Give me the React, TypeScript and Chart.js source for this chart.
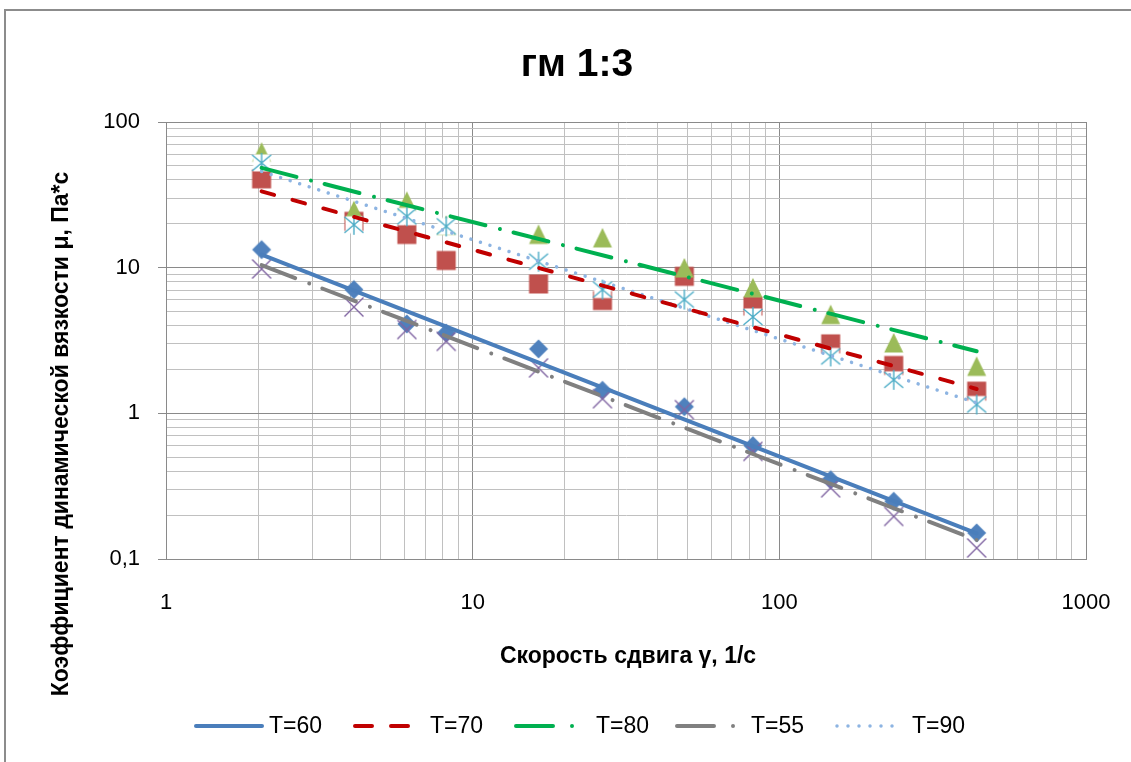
import { useEffect, useRef } from 'react';
import { Chart, registerables } from 'chart.js';

Chart.register(...registerables);

// ---------- data ----------
const chartTitle = 'гм 1:3';
const xAxisTitle = 'Скорость сдвига γ, 1/с';
const yAxisTitle = 'Коэффициент динамической вязкости μ, Па*с';

const seriesLabels = ['T=60', 'T=70', 'T=80', 'T=55', 'T=90'];

const shearRate = [2.05, 4.1, 6.1, 8.2, 16.4, 26.5, 49, 82, 147, 236, 440];
const viscT60 = [13.3, 7.07, 4.11, 3.56, 2.77, 1.44, 1.11, 0.6, 0.35, 0.249, 0.151];
const viscT70 = [40.7, 20.8, 16.9, 11.2, 7.73, 5.95, 8.72, 5.45, 3.0, 2.13, 1.42];
const viscT80 = [62, 24.6, 28.5, 19.5, 16.9, 16.0, 9.95, 7.26, 4.76, 3.04, 2.1];
const viscT55 = [9.8, 5.37, 3.76, 3.12, 2.05, 1.26, 1.06, 0.548, 0.308, 0.196, 0.119];
const viscT90 = [52.4, 19.7, 22.5, 19.2, 11.0, 7.07, 6.04, 4.59, 2.46, 1.7, 1.15];

// power trend lines (straight in log-log), end values
const trendRange = [2.05, 440];
const trendT60 = [12.3, 0.15];
const trendT70 = [33.4, 1.47];
const trendT80 = [48.4, 2.67];
const trendT55 = [10.4, 0.135];
const trendT90 = [45.8, 1.18];

const xTickValues = [1, 10, 100, 1000];
const xTickLabels = ['1', '10', '100', '1000'];
const yTickValues = [0.1, 1, 10, 100];
const yTickLabels = ['0,1', '1', '10', '100'];

// ---------- styles ----------
const FONT = "'Liberation Sans', Arial, sans-serif";

const markerKinds = ['diamond', 'square', 'triangle', 'cross', 'star'];
const markerColors = ['#4F81BD', '#C0504D', '#9BBB59', '#8064A2', '#4BACC6'];
const trendColors = ['#4A7EBB', '#C00000', '#00B050', '#808080', '#8DB4E2'];
const trendWidths = [4, 4, 4, 4, 3.5];
const trendDashes = [[], [13, 19], [36, 15, 0.001, 14], [36, 15, 0.001, 14], [0.001, 10]];
const legendDashes = [[], [17, 19], [37, 19, 0.001, 200], [37, 19, 0.001, 200], [0.001, 11]];
const legendSample = [
  [196, 262],
  [355, 408],
  [516, 574],
  [677, 735],
  [837, 903],
];
const legendTextX = [269, 430, 596, 751, 912];
const legendY = 726;

function makeMarker(kind: string, color: string): HTMLCanvasElement {
  const c = document.createElement('canvas');
  const s = 22;
  c.width = s;
  c.height = s;
  const g = c.getContext('2d') as CanvasRenderingContext2D;
  const m = s / 2;
  g.fillStyle = color;
  g.strokeStyle = color;
  if (kind === 'diamond') {
    const r = 9.5;
    g.beginPath();
    g.moveTo(m, m - r);
    g.lineTo(m + r, m);
    g.lineTo(m, m + r);
    g.lineTo(m - r, m);
    g.closePath();
    g.fill();
  } else if (kind === 'square') {
    g.fillRect(m - 9.5, m - 9.5, 19, 19);
  } else if (kind === 'triangle') {
    g.beginPath();
    g.moveTo(m, m - 10);
    g.lineTo(m + 9.5, m + 9.5);
    g.lineTo(m - 9.5, m + 9.5);
    g.closePath();
    g.fill();
  } else if (kind === 'cross') {
    g.lineWidth = 1.4;
    g.beginPath();
    g.moveTo(m - 9.5, m - 9.5);
    g.lineTo(m + 9.5, m + 9.5);
    g.moveTo(m + 9.5, m - 9.5);
    g.lineTo(m - 9.5, m + 9.5);
    g.stroke();
  } else if (kind === 'star') {
    g.fillStyle = '#FFFFFF';
    g.fillRect(m - 8.5, m - 8.5, 17, 17);
    g.strokeStyle = color;
    g.lineWidth = 1.4;
    g.beginPath();
    g.moveTo(m, m - 10);
    g.lineTo(m, m + 10);
    g.moveTo(m - 9.5, m - 8);
    g.lineTo(m + 9.5, m + 8);
    g.moveTo(m + 9.5, m - 8);
    g.lineTo(m - 9.5, m + 8);
    g.stroke();
  }
  return c;
}

const isDecade = (v: number) => Math.abs(Math.log10(v) - Math.round(Math.log10(v))) < 1e-9;

function logGrid(min: number, max: number): number[] {
  const out: number[] = [];
  for (let e = Math.round(Math.log10(min)); e < Math.round(Math.log10(max)); e++) {
    for (let k = 1; k <= 9; k++) out.push(parseFloat((k * Math.pow(10, e)).toPrecision(6)));
  }
  out.push(max);
  return out;
}

const overlayPlugin = {
  id: 'overlayTexts',
  afterDraw(chart: any) {
    const ctx = chart.ctx as CanvasRenderingContext2D;
    const area = chart.chartArea;
    ctx.save();
    ctx.fillStyle = '#000';
    ctx.textAlign = 'center';
    ctx.textBaseline = 'middle';
    // title
    ctx.font = `bold 39px ${FONT}`;
    ctx.fillText(chartTitle, 577, 65);
    // x title
    ctx.font = `bold 23px ${FONT}`;
    ctx.fillText(xAxisTitle, (area.left + area.right) / 2 + 2, 657);
    // y title
    ctx.save();
    ctx.translate(62, 434);
    ctx.rotate(-Math.PI / 2);
    ctx.font = `bold 23px ${FONT}`;
    ctx.fillText(yAxisTitle, 0, 0);
    ctx.restore();
    // legend
    ctx.font = `23px ${FONT}`;
    ctx.textAlign = 'left';
    for (let i = 0; i < seriesLabels.length; i++) {
      ctx.save();
      ctx.strokeStyle = trendColors[i];
      ctx.lineWidth = trendWidths[i];
      ctx.lineCap = 'round';
      ctx.setLineDash(legendDashes[i]);
      ctx.beginPath();
      ctx.moveTo(legendSample[i][0], legendY);
      ctx.lineTo(legendSample[i][1], legendY);
      ctx.stroke();
      ctx.restore();
      ctx.fillText(seriesLabels[i], legendTextX[i], legendY + 1);
    }
    ctx.restore();
  },
};

export default function App() {
  const ref = useRef<HTMLCanvasElement | null>(null);

  useEffect(() => {
    if (!ref.current) return;
    const valueSets = [viscT60, viscT70, viscT80, viscT55, viscT90];
    const trendSets = [trendT60, trendT70, trendT80, trendT55, trendT90];
    const markerOrder = [5, 4, 3, 2, 1];

    const trendDatasets = trendSets.map((t, i) => ({
      label: seriesLabels[i],
      data: trendRange.map((x, j) => ({ x, y: t[j] })),
      showLine: true,
      borderColor: trendColors[i],
      borderWidth: trendWidths[i],
      borderDash: trendDashes[i],
      borderCapStyle: 'round',
      pointRadius: 0,
      fill: false,
      order: 0,
    }));

    const markerDatasets = valueSets.map((vals, i) => ({
      label: seriesLabels[i] + ' data',
      data: shearRate.map((x, j) => ({ x, y: vals[j] })),
      showLine: false,
      pointStyle: makeMarker(markerKinds[i], markerColors[i]),
      pointRadius: 10,
      backgroundColor: markerColors[i],
      borderColor: markerColors[i],
      order: markerOrder[i],
    }));

    const xGrid = logGrid(xTickValues[0], xTickValues[xTickValues.length - 1]);
    const yGrid = logGrid(yTickValues[0], yTickValues[yTickValues.length - 1]);

    const gridColor = (c: any) => (c.tick && isDecade(c.tick.value) ? '#8A8A8A' : '#C0C0C0');

    const chart = new Chart(ref.current, {
      type: 'scatter',
      data: { datasets: [...trendDatasets, ...markerDatasets] as any },
      plugins: [overlayPlugin],
      options: {
        animation: false,
        responsive: false,
        events: [],
        layout: { padding: { left: 0, top: 122, right: 45, bottom: 143 } },
        plugins: {
          legend: { display: false },
          title: { display: false },
          tooltip: { enabled: false },
        },
        scales: {
          x: {
            type: 'logarithmic',
            min: xTickValues[0],
            max: xTickValues[xTickValues.length - 1],
            afterBuildTicks: (scale: any) => {
              scale.ticks = xGrid.map((v) => ({ value: v, major: isDecade(v) }));
            },
            afterFit: (scale: any) => {
              scale.height = 60;
            },
            ticks: {
              autoSkip: false,
              maxRotation: 0,
              padding: 3,
              color: '#000',
              font: { family: FONT, size: 22 },
              callback: (v: any) => {
                const idx = xTickValues.findIndex((t) => Math.abs(t - Number(v)) < 1e-9);
                return idx >= 0 ? xTickLabels[idx] : '';
              },
            },
            grid: {
              color: gridColor,
              lineWidth: 1,
              drawTicks: true,
              tickLength: 28,
              tickColor: 'rgba(0,0,0,0)',
            },
            border: { display: true, color: '#8A8A8A', width: 1 },
          },
          y: {
            type: 'logarithmic',
            min: yTickValues[0],
            max: yTickValues[yTickValues.length - 1],
            afterBuildTicks: (scale: any) => {
              scale.ticks = yGrid.map((v) => ({ value: v, major: isDecade(v) }));
            },
            afterFit: (scale: any) => {
              scale.width = 166;
            },
            ticks: {
              autoSkip: false,
              padding: 18,
              color: '#000',
              font: { family: FONT, size: 22 },
              callback: (v: any) => {
                const idx = yTickValues.findIndex((t) => Math.abs(t - Number(v)) < 1e-12);
                return idx >= 0 ? yTickLabels[idx] : '';
              },
            },
            grid: {
              color: gridColor,
              lineWidth: 1,
              drawTicks: true,
              tickLength: 8,
              tickColor: (c: any) => (c.tick && isDecade(c.tick.value) ? '#8A8A8A' : 'rgba(0,0,0,0)'),
            },
            border: { display: true, color: '#8A8A8A', width: 1 },
          },
        },
      } as any,
    });
    return () => chart.destroy();
  }, []);

  return (
    <div
      style={{
        position: 'fixed',
        left: 0,
        top: 0,
        width: 1131,
        height: 762,
        overflow: 'hidden',
        background: '#fff',
      }}
    >
      <div
        style={{
          position: 'absolute',
          left: 4,
          top: 9,
          width: 1200,
          height: 800,
          border: '2px solid #8C8C8C',
          boxSizing: 'border-box',
        }}
      />
      <canvas
        ref={ref}
        width={1131}
        height={762}
        style={{ position: 'absolute', left: 0, top: 0, width: 1131, height: 762 }}
      />
    </div>
  );
}
